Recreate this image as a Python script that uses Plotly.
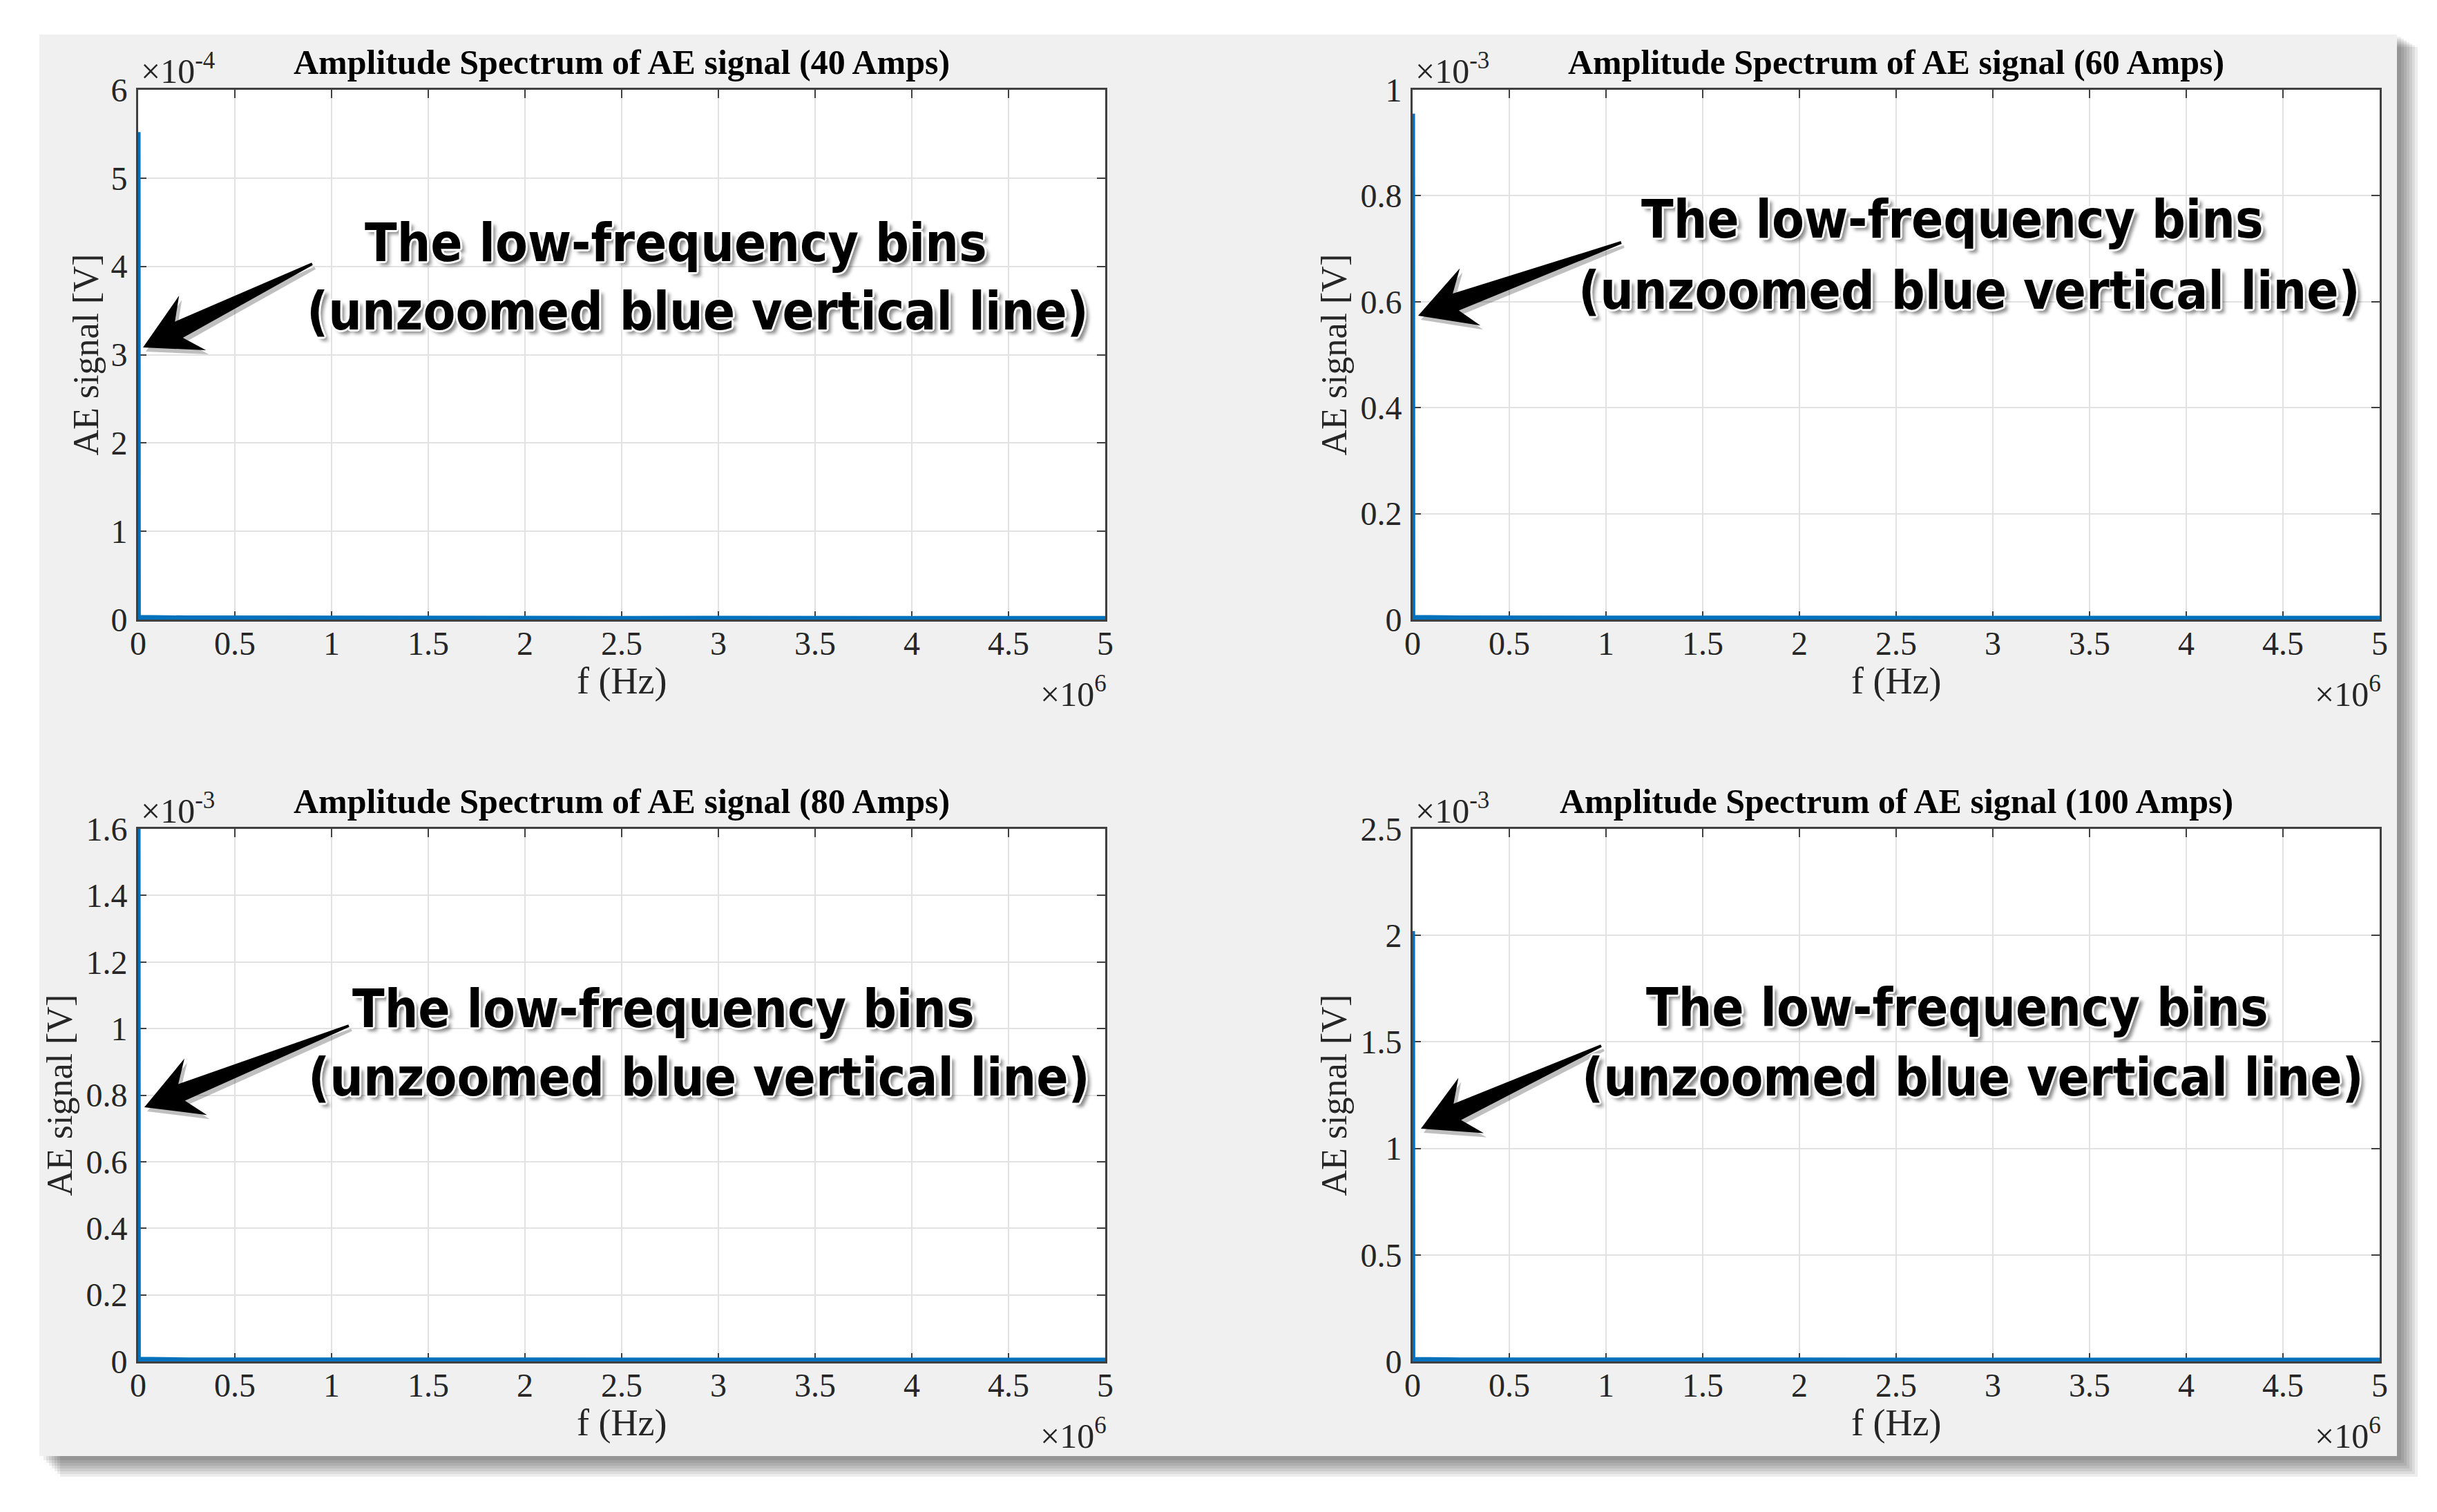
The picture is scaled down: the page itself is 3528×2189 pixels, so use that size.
import plotly.graph_objects as go
from plotly.subplots import make_subplots

W, H = 3528, 2189
PAGE_OFF = 8  # default body margin of the html page

# spectrum data (f in Hz, amplitude in V)
currents = ["40", "60", "80", "100"]
freq_hz = [0, 0, 1.2e3, 2.5e5, 5.0e5, 1.0e6, 1.5e6, 2.0e6, 2.5e6, 3.0e6, 3.5e6, 4.0e6, 4.5e6, 5.0e6]
amp_40 = [0, 5.52e-4, 2.6e-6, 1.9e-6, 1.7e-6, 1.6e-6, 1.5e-6, 1.6e-6, 1.4e-6, 1.5e-6, 1.4e-6, 1.5e-6, 1.3e-6, 1.4e-6]
amp_60 = [0, 9.55e-4, 4.2e-6, 3.1e-6, 2.9e-6, 2.7e-6, 2.8e-6, 2.6e-6, 2.7e-6, 2.5e-6, 2.6e-6, 2.5e-6, 2.4e-6, 2.5e-6]
amp_80 = [0, 1.60e-3, 6.5e-6, 4.8e-6, 4.5e-6, 4.3e-6, 4.4e-6, 4.2e-6, 4.3e-6, 4.1e-6, 4.2e-6, 4.0e-6, 4.1e-6, 4.0e-6]
amp_100 = [0, 2.02e-3, 1.0e-5, 7.5e-6, 7.0e-6, 6.8e-6, 6.9e-6, 6.6e-6, 6.7e-6, 6.5e-6, 6.6e-6, 6.4e-6, 6.5e-6, 6.4e-6]
amps = [amp_40, amp_60, amp_80, amp_100]

x_tick_labels = ["0", "0.5", "1", "1.5", "2", "2.5", "3", "3.5", "4", "4.5", "5"]
x_exp = 6
y_tick_labels = [
    ["0", "1", "2", "3", "4", "5", "6"],
    ["0", "0.2", "0.4", "0.6", "0.8", "1"],
    ["0", "0.2", "0.4", "0.6", "0.8", "1", "1.2", "1.4", "1.6"],
    ["0", "0.5", "1", "1.5", "2", "2.5"],
]
y_exps = [-4, -3, -3, -3]

LINE_BLUE = "#0072BD"
AX_COL = "#404040"
TXT_COL = "#262626"
SERIF = "Liberation Serif, Times New Roman, serif"
NOTE_FONT = "DejaVu Sans Condensed, Liberation Sans, sans-serif"

# panel geometry in pixels (left, right, top, bottom)
cols_px = [(200, 1600), (2045, 3445)]
rows_px = [(130, 897), (1200, 1971)]


def px(x):
    return (x - PAGE_OFF) / W


def py(y):
    return 1 - (y - PAGE_OFF) / H


fig = make_subplots(rows=2, cols=2)
shapes = []

# grey figure panel with soft drop shadow
for k in range(7):
    off = 6 + 4 * k
    shapes.append(dict(type="rect", xref="paper", yref="paper", layer="below",
                       x0=px(57 + off), x1=px(3470 + off), y0=py(2108 + off), y1=py(50 + off * 0.6),
                       fillcolor="rgba(0,0,0,0.07)", line=dict(width=0)))
shapes.append(dict(type="rect", xref="paper", yref="paper", layer="below",
                   x0=px(57), x1=px(3470), y0=py(2108), y1=py(50),
                   fillcolor="#f0f0f0", line=dict(width=0)))

for i, cur in enumerate(currents):
    r, c = divmod(i, 2)
    fig.add_trace(
        go.Scatter(x=freq_hz, y=amps[i], mode="lines",
                   line=dict(color=LINE_BLUE, width=7), showlegend=False,
                   hoverinfo="skip"),
        row=r + 1, col=c + 1,
    )
    (x0, x1), (y0, y1) = cols_px[c], rows_px[r]
    yvals = [float(t) * 10 ** y_exps[i] for t in y_tick_labels[i]]
    xvals = [float(t) * 10 ** x_exp for t in x_tick_labels]
    common = dict(
        showgrid=True, gridcolor="#e2e2e2", gridwidth=2,
        showline=True, linecolor=AX_COL, linewidth=3, mirror="ticks",
        ticks="inside", ticklen=12, tickwidth=2, tickcolor=AX_COL,
        tickfont=dict(family=SERIF, size=48, color=TXT_COL),
        zeroline=False, layer="below traces", automargin=False,
    )
    fig.update_xaxes(domain=[px(x0), px(x1)], range=[0, 5e6], tickvals=xvals,
                     ticktext=x_tick_labels, ticklabelstandoff=-10,
                     row=r + 1, col=c + 1, **common)
    fig.update_yaxes(domain=[py(y1), py(y0)], range=[0, yvals[-1]], tickvals=yvals,
                     ticktext=y_tick_labels[i], ticklabelstandoff=3,
                     row=r + 1, col=c + 1, **common)

    # white axes background
    shapes.append(dict(type="rect", xref="paper", yref="paper", layer="below",
                       x0=px(x0), x1=px(x1), y0=py(y1), y1=py(y0),
                       fillcolor="white", line=dict(width=0)))

    xc = (x0 + x1) / 2
    yc = (y0 + y1) / 2
    # title
    fig.add_annotation(text="<b>Amplitude Spectrum of AE signal (%s Amps)</b>" % cur,
                       x=px(xc), y=py(y0 - 40), xref="paper", yref="paper",
                       showarrow=False, xanchor="center", yanchor="middle",
                       font=dict(family=SERIF, size=50, color="black"))
    # axis labels
    fig.add_annotation(text="f (Hz)", x=px(xc), y=py(y1 + 89), xref="paper", yref="paper",
                       showarrow=False, xanchor="center", yanchor="middle",
                       font=dict(family=SERIF, size=54, color=TXT_COL))
    ylab_x = [124, 1931][c] if i != 2 else 86
    fig.add_annotation(text="AE signal [V]", x=px(ylab_x), y=py(yc), xref="paper", yref="paper",
                       showarrow=False, textangle=-90, xanchor="center", yanchor="middle",
                       font=dict(family=SERIF, size=52, color=TXT_COL))
    # exponents
    fig.add_annotation(text="\u00d710<sup>%d</sup>" % y_exps[i], x=px(x0 + 2), y=py(y0 - 30),
                       xref="paper", yref="paper", showarrow=False,
                       xanchor="left", yanchor="middle",
                       font=dict(family=SERIF, size=50, color=TXT_COL))
    fig.add_annotation(text="\u00d710<sup>%d</sup>" % x_exp, x=px(x1 + 4), y=py(y1 + 104),
                       xref="paper", yref="paper", showarrow=False,
                       xanchor="right", yanchor="middle",
                       font=dict(family=SERIF, size=50, color=TXT_COL))


def arrow_path(tail, tip, head_len=80, head_half=44, neck_len=58, neck_half=13, tail_half=2, dx=0, dy=0):
    tx, ty = tip
    ax, ay = tail
    L = ((tx - ax) ** 2 + (ty - ay) ** 2) ** 0.5
    ux, uy = (tx - ax) / L, (ty - ay) / L
    nx, ny = -uy, ux
    nkx, nky = tx - ux * neck_len, ty - uy * neck_len
    bx, by = tx - ux * head_len, ty - uy * head_len
    pts = [
        (ax + nx * tail_half, ay + ny * tail_half),
        (nkx + nx * neck_half, nky + ny * neck_half),
        (bx + nx * head_half, by + ny * head_half),
        (tx, ty),
        (bx - nx * head_half, by - ny * head_half),
        (nkx - nx * neck_half, nky - ny * neck_half),
        (ax - nx * tail_half, ay - ny * tail_half),
    ]
    return "M " + " L ".join("%.5f %.5f" % (px(x + dx), py(y + dy)) for x, y in pts) + " Z"


# arrow (tail, tip) and callout text centres, in pixels
arrows = [((452, 382), (207, 503)), ((2347, 351), (2053, 457)),
          ((505, 1485), (209, 1603)), ((2318, 1514), (2057, 1634))]
note_line1 = [(979, 351), (2826, 317), (961, 1460), (2833, 1458)]
note_line2 = [(1010, 450), (2851, 421), (1012, 1559), (2856, 1559)]

for tail, tip in arrows:
    shapes.append(dict(type="path", xref="paper", yref="paper", layer="above",
                       path=arrow_path(tail, tip, dx=4, dy=6),
                       fillcolor="rgba(0,0,0,0.25)", line=dict(width=0)))
    shapes.append(dict(type="path", xref="paper", yref="paper", layer="above",
                       path=arrow_path(tail, tip), fillcolor="black", line=dict(width=0)))

outline = ", ".join("white %dpx %dpx 0" % (a, b) for a, b in
                    [(3, 0), (-3, 0), (0, 3), (0, -3), (2, 2), (-2, -2), (2, -2), (-2, 2)])
shadow = outline + ", rgba(0,0,0,0.45) 6px 6px 5px"
for (x1_, y1_), (x2_, y2_) in zip(note_line1, note_line2):
    for txt, (x, y) in [("The low-frequency bins", (x1_, y1_)),
                        ("(unzoomed blue vertical line)", (x2_, y2_))]:
        fig.add_annotation(text="<b>%s</b>" % txt, x=px(x), y=py(y), xref="paper", yref="paper",
                           showarrow=False, xanchor="center", yanchor="middle",
                           font=dict(family=NOTE_FONT, size=76, color="black", shadow=shadow))

fig.update_layout(
    width=W, height=H, margin=dict(l=0, r=0, t=0, b=0),
    paper_bgcolor="white", plot_bgcolor="white",
    shapes=shapes, showlegend=False,
)

fig.write_html("out.html")
